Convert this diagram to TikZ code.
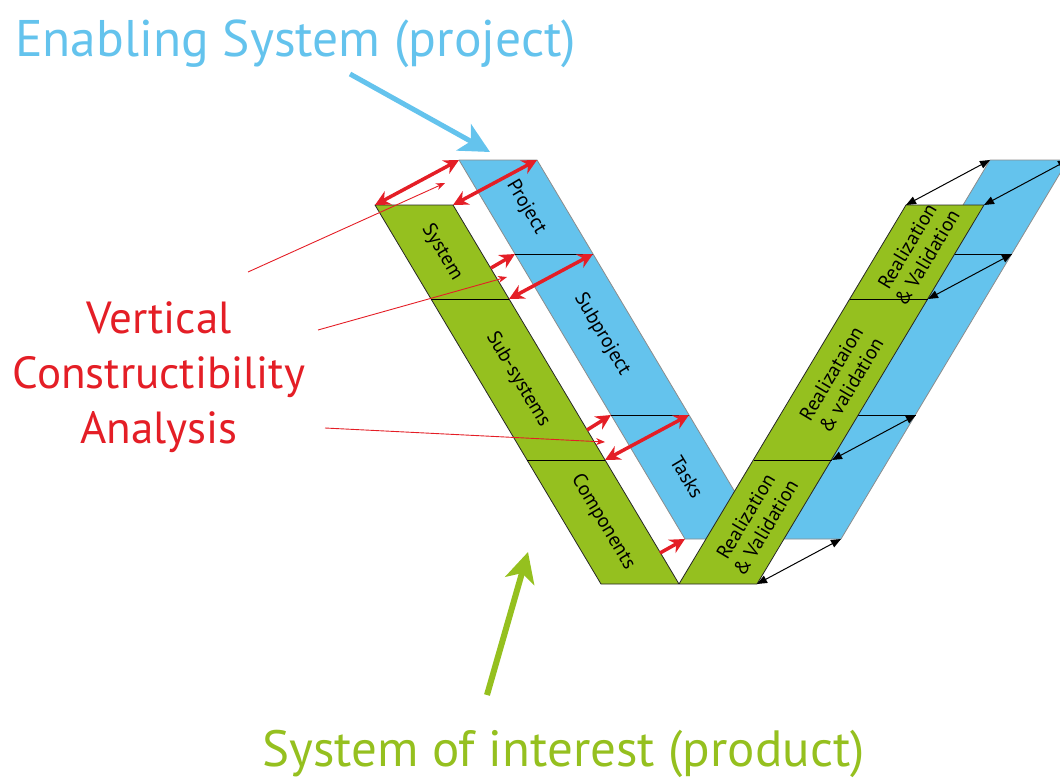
\documentclass[tikz,border=0pt]{standalone}
\usepackage{fontspec}
\setmainfont{PT Sans}
\usetikzlibrary{arrows.meta, calc}

\definecolor{prodgreen}{RGB}{149,192,31}
\definecolor{projblue}{RGB}{100,195,237}
\definecolor{vcared}{RGB}{228,30,38}

\begin{document}
\begin{tikzpicture}[
    x=1pt, y=-1pt,
    product/.style={fill=prodgreen, draw=black!85, line width=0.8pt, line join=round},
    project/.style={fill=projblue, draw=black!45, line width=0.8pt, line join=round},
    divider/.style={draw=black, line width=0.8pt},
    leglabel/.style={font=\fontsize{20}{23}\selectfont, align=center, inner sep=0pt},
    redlink/.style={{Stealth[length=15pt, width=15pt]}-{Stealth[length=15pt, width=15pt]}, line width=3.5pt, vcared},
    redhop/.style={-{Stealth[length=15pt, width=15pt]}, line width=3.5pt, vcared},
    pointer/.style={-{Stealth[length=9pt, width=7pt]}, line width=0.9pt, vcared},
    blacklink/.style={{Triangle[length=10pt, width=8pt]}-{Triangle[length=10pt, width=8pt]}, line width=1pt, black},
    callout/.style={-{Stealth[length=30pt, width=30pt, inset=8pt]}, line width=5pt},
]
\useasboundingbox (0,0) rectangle (1060,781);
\clip (0,0) rectangle (1060,781);

% Product V (green), left and right legs
\coordinate (GLa-0) at (375,205); \coordinate (GLb-0) at (453,205);
\coordinate (GLa-1) at (431,299); \coordinate (GLb-1) at (509,299);
\coordinate (GLa-2) at (527,460); \coordinate (GLb-2) at (605,460);
\coordinate (GLa-3) at (601,584); \coordinate (GLb-3) at (679,584);
\coordinate (GRa-0) at (906,205); \coordinate (GRb-0) at (984,205);
\coordinate (GRa-1) at (850,299); \coordinate (GRb-1) at (928,299);
\coordinate (GRa-2) at (754,460); \coordinate (GRb-2) at (832,460);
\coordinate (GRb-3) at (757,584);

% Project V (blue), shifted up and right
\coordinate (BLa-0) at (459,160); \coordinate (BLb-0) at (537,160);
\coordinate (BLa-1) at (515,254); \coordinate (BLb-1) at (593,254);
\coordinate (BLa-2) at (611,415); \coordinate (BLb-2) at (689,415);
\coordinate (BLa-3) at (685,539); \coordinate (BLb-3) at (763,539);
\coordinate (BRa-0) at (990,160); \coordinate (BRb-0) at (1068,160);
\coordinate (BRa-1) at (934,254); \coordinate (BRb-1) at (1012,254);
\coordinate (BRa-2) at (838,415); \coordinate (BRb-2) at (916,415);
\coordinate (BRb-3) at (841,539);

% Start points of the short red arrows
\coordinate (hop1) at (491,268);
\coordinate (hop2) at (587,430);
\coordinate (hop3) at (660,553);

\draw[project] (BLa-0) -- (BLb-0) -- (BLb-3) -- (BRa-0) -- (BRb-0) -- (BRb-3) -- (BLa-3) -- cycle;
\draw[divider] (BLa-1) -- (BLb-1) (BLa-2) -- (BLb-2) (BRa-1) -- (BRb-1) (BRa-2) -- (BRb-2);
\draw[product] (GLa-0) -- (GLb-0) -- (GLb-3) -- (GRa-0) -- (GRb-0) -- (GRb-3) -- (GLa-3) -- cycle;
\draw[divider] (GLa-1) -- (GLb-1) (GLa-2) -- (GLb-2) (GRa-1) -- (GRb-1) (GRa-2) -- (GRb-2);

% Leg labels
\node[leglabel, rotate=-59.2] (project) at ($(BLa-0)!0.5!(BLb-1)$) {Project};
\node[leglabel, rotate=-59.2] (subproject) at ($(BLa-1)!0.5!(BLb-2)$) {Subproject};
\node[leglabel, rotate=-59.2] (tasks) at ($(BLa-2)!0.5!(BLb-3)$) {Tasks};
\node[leglabel, rotate=-59.2] (system) at ($(GLa-0)!0.5!(GLb-1)$) {System};
\node[leglabel, rotate=-59.2] (subsystems) at ($(GLa-1)!0.5!(GLb-2)$) {Sub-systems};
\node[leglabel, rotate=-59.2] (components) at ($(GLa-2)!0.5!(GLb-3)$) {Components};
\node[leglabel, rotate=59.2] (rvlow) at ($(GLb-3)!0.5!(GRb-2)$) {Realization\\\& Validation};
\node[leglabel, rotate=59.2] (rvmid) at ($(GRa-2)!0.5!(GRb-1)$) {Realizataion\\\& validation};
\node[leglabel, rotate=59.2] (rvtop) at ($(GRa-1)!0.5!(GRb-0)$) {Realization\\\& Validation};

% Titles
\node[anchor=base west, inner sep=0pt, font=\fontsize{51.5}{60}\selectfont, text=projblue] (enabling) at (15,57) {Enabling System (project)};
\node[anchor=base, inner sep=0pt, align=center, font=\fontsize{45}{55}\selectfont, text=vcared] (vca) at (159,443) {Vertical\\Constructibility\\Analysis};
\node[anchor=base west, inner sep=0pt, font=\fontsize{51}{60}\selectfont, text=prodgreen] (soi) at (262,766) {System of interest (product)};

% Red links, left side
\draw[redlink] (GLa-0) -- (BLa-0);
\draw[redlink] (GLb-0) -- (BLb-0);
\draw[redhop] (hop1) -- (BLa-1);
\draw[redlink] (GLb-1) -- (BLb-1);
\draw[redhop] (hop2) -- (BLa-2);
\draw[redlink] (GLb-2) -- (BLb-2);
\draw[redhop] (hop3) -- (BLa-3);

% Black links, right side
\draw[blacklink] (GRa-0) -- (BRa-0);
\draw[blacklink] (GRb-0) -- (BRb-0);
\draw[blacklink] (GRb-1) -- (BRb-1);
\draw[blacklink] (GRb-2) -- (BRb-2);
\draw[blacklink] (GRb-3) -- (BRb-3);

% Pointers from the analysis text
\coordinate (vtail1) at (248,272); \coordinate (vhead1) at (445,183);
\coordinate (vtail2) at (318,330); \coordinate (vhead2) at (507,277);
\coordinate (vtail3) at (325,428); \coordinate (vhead3) at (605,442);
\draw[pointer] (vtail1) -- (vhead1);
\draw[pointer] (vtail2) -- (vhead2);
\draw[pointer] (vtail3) -- (vhead3);

% Big callout arrows
\coordinate (etail) at (350,74); \coordinate (ehead) at (490,152);
\coordinate (stail) at (487,695); \coordinate (shead) at (528,552);
\draw[callout, projblue] (etail) -- (ehead);
\draw[callout, prodgreen, line width=6pt] (stail) -- (shead);

\end{tikzpicture}
\end{document}
